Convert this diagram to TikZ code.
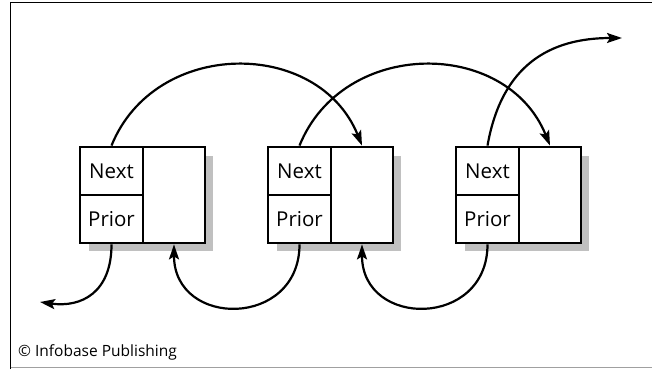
\documentclass[tikz,border=0pt]{standalone}
\usepackage{fontspec}
\setmainfont{Open Sans}
\usetikzlibrary{arrows.meta}
\definecolor{shadowgray}{HTML}{C0C0C0}
\definecolor{framegray}{HTML}{A0A0A0}
\tikzset{
  x=1pt,y=1pt,
  cell/.style={draw=black,line width=2.8pt,minimum width=63pt,minimum height=48pt,inner sep=0pt,font=\fontsize{20.5}{24}\selectfont},
  datacell/.style={draw=black,line width=2.8pt,minimum width=62pt,minimum height=96pt,inner sep=0pt},
  link/.style={line width=2.2pt,-{Stealth[length=15pt,width=10pt,inset=3pt]}},
}
\begin{document}
\begin{tikzpicture}
\useasboundingbox (0,0) rectangle (652,-369);
% frame
\draw[line width=1.3pt] (10.5,-369) -- (10.5,-2.5) -- (652,-2.5);
\draw[framegray,line width=1.3pt] (10.5,-367.8) -- (652,-367.8);
% shadows
\foreach \i in {0,1,2}{
  \fill[shadowgray] (80+188*\i+9,-156) rectangle (80+188*\i+133,-251);
}
% cells
\foreach \i/\n in {0/1,1/2,2/3}{
  \node[cell,fill=white] (next\n) at (80+188*\i+31.5,-171) {Next};
  \node[cell,fill=white] (prior\n) at (80+188*\i+31.5,-219) {Prior};
  \node[datacell,fill=white] (data\n) at (80+188*\i+94,-195) {};
}
\coordinate (outnext) at (622,-38);
\coordinate (outprior) at (40,-302);
% next links
\draw[link] (next1.north) .. controls +(68:116) and +(112:116) .. (data2.north);
\draw[link] (next2.north) .. controls +(68:116) and +(112:116) .. (data3.north);
\draw[link] (next3.north) .. controls +(80:82) and +(180:72) .. (outnext);
% prior links
\draw[link] (prior2.south) .. controls +(-90:84) and +(-90:84) .. (data1.south);
\draw[link] (prior3.south) .. controls +(-90:84) and +(-90:84) .. (data2.south);
\draw[link] (prior1.south) .. controls +(-90:48) and +(-8:42) .. (outprior);
% credit
\node[anchor=base west,inner sep=0pt,font=\fontsize{15.5}{18}\selectfont] (credit) at (18,-356) {© Infobase Publishing};
\end{tikzpicture}
\end{document}
